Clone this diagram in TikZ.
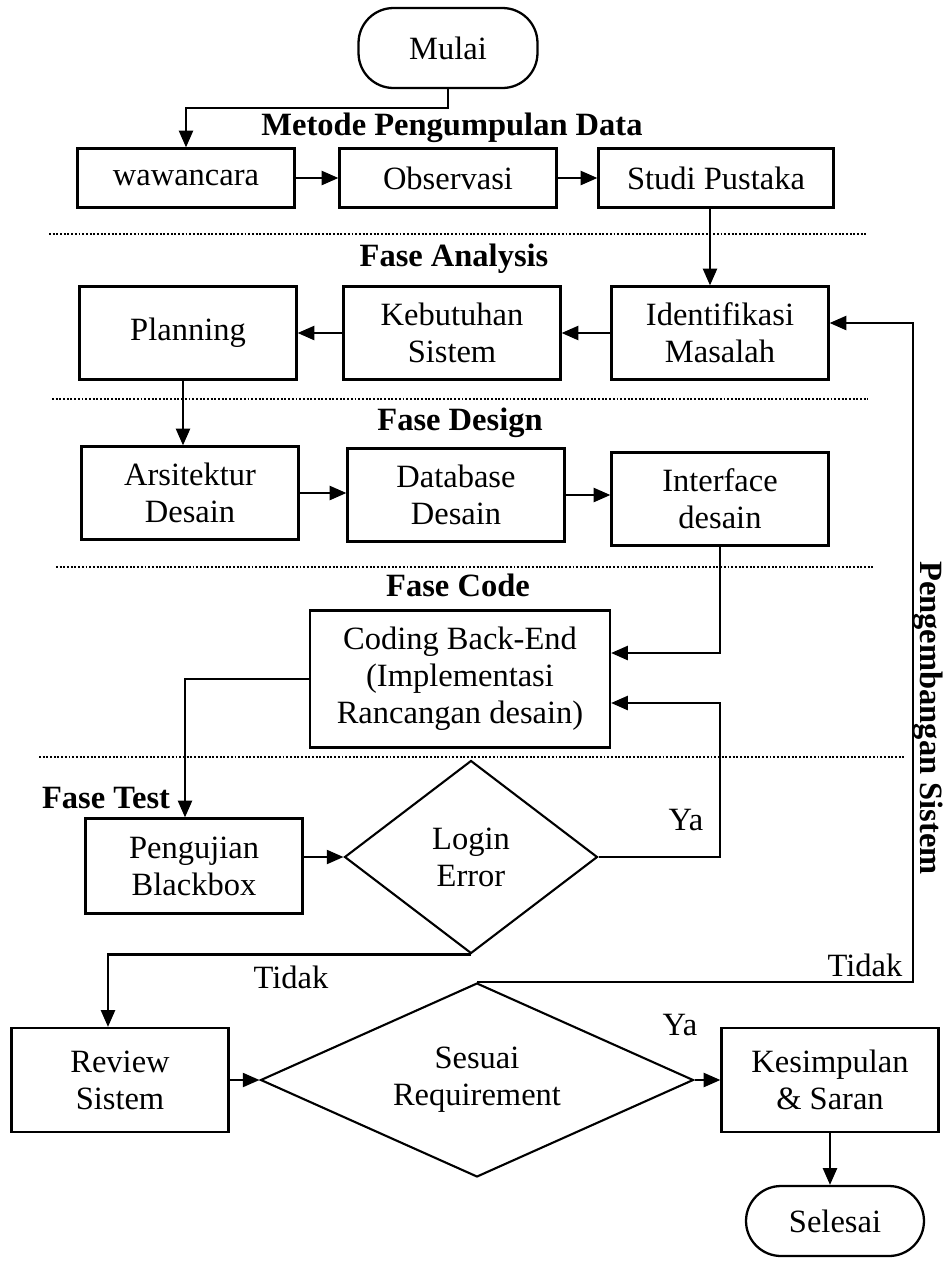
\documentclass[tikz,border=0pt]{standalone}
\usepackage{fontspec}
\setmainfont{Liberation Serif}
\usetikzlibrary{shapes.geometric,arrows.meta}

\begin{document}
\begin{tikzpicture}[x=0.02cm, y=-0.02cm,
		font=\fontsize{18.5}{21}\selectfont,
		proses/.style={draw, line width=1.3pt, rectangle, align=center, inner sep=0pt,
			minimum width=4.34cm, minimum height=1.86cm},
		terminal/.style={draw, line width=1.3pt, rounded corners=0.7cm, inner sep=0pt},
		keputusan/.style={draw, line width=1.2pt, diamond, align=center, inner sep=0pt},
		fase/.style={font=\fontsize{18.5}{21}\selectfont\bfseries},
		alur/.style={line width=1.2pt, -{Triangle[length=9.5pt,width=8pt]}},
		batas/.style={densely dotted, line width=1.1pt}]
		  \useasboundingbox (0,0) rectangle (947,1262);

		  \node[terminal, minimum width=3.58cm, minimum height=1.6cm] (mulai) at (448,48) {Mulai};
		  \node[fase] (judulmetode) at (452,128) {Metode Pengumpulan Data};
		  \node[proses, minimum height=1.18cm] (wawancara) at (186,178) {wawancara};
		  \node[proses, minimum height=1.18cm] (observasi) at (448,178) {Observasi};
		  \node[proses, minimum width=4.7cm, minimum height=1.18cm] (studi) at (716,178) {Studi Pustaka};

		  \node[fase] (judulanalysis) at (454,259) {Fase Analysis};
		  \node[proses] (planning) at (188,333) {Planning};
		  \node[proses] (kebutuhan) at (452,333) {Kebutuhan\\Sistem};
		  \node[proses] (identifikasi) at (720,333) {Identifikasi\\Masalah};

		  \node[fase] (juduldesign) at (460,423) {Fase Design};
		  \node[proses] (arsitektur) at (190,493) {Arsitektur\\Desain};
		  \node[proses] (database) at (456,495) {Database\\Desain};
		  \node[proses] (interface) at (720,499) {Interface\\desain};

		  \node[fase] (judulcode) at (458,585) {Fase Code};
		  \node[proses, minimum width=6cm, minimum height=2.74cm] (coding) at (460,679)
		      {Coding Back-End\\(Implementasi\\Rancangan desain)};

		  \node[fase] (judultest) at (106,798) {Fase Test};
		  \node[proses, minimum height=1.9cm] (pengujian) at (194,866) {Pengujian\\Blackbox};
		  \node[keputusan, aspect=1.3, minimum width=5.06cm, minimum height=3.86cm] (login) at (471,857) {Login\\Error};

		  \node[proses, minimum height=2.08cm] (review) at (120,1080) {Review\\Sistem};
		  \node[keputusan, aspect=2.2, minimum width=8.66cm, minimum height=3.88cm] (sesuai) at (477,1080) {Sesuai\\Requirement};
		  \node[proses, minimum height=2.08cm] (kesimpulan) at (830,1080) {Kesimpulan\\\& Saran};
		  \node[terminal, minimum width=3.56cm, minimum height=1.4cm] (selesai) at (835,1221) {Selesai};

		  \node[fase, rotate=-90, inner sep=0pt] (pengembangan) at (928,718) {Pengembangan Sistem};

		  \node (yalogin) at (686,820) {Ya};
		  \node (tidaklogin) at (291,977) {Tidak};
		  \node (yasesuai) at (680,1025) {Ya};
		  \node (tidaksesuai) at (865,965) {Tidak};

		  \draw[batas] (49,234) -- (866,234);
		  \draw[batas] (52,399) -- (868,399);
		  \draw[batas] (56,567) -- (873,567);
		  \draw[batas] (39,757) -- (905,757);

		  \draw[alur] (mulai.south) -- ++(0,19) -| (wawancara.north);
		  \draw[alur] (wawancara) -- (observasi);
		  \draw[alur] (observasi) -- (studi);
		  \draw[alur] ([xshift=-0.12cm]studi.south) -- ([xshift=-0.12cm]studi.south |- identifikasi.north);
		  \draw[alur] (identifikasi) -- (kebutuhan);
		  \draw[alur] (kebutuhan) -- (planning);
		  \draw[alur] ([xshift=-0.1cm]planning.south) -- ([xshift=-0.1cm]planning.south |- arsitektur.north);
		  \draw[alur] (arsitektur.east) -- (arsitektur.east -| database.west);
		  \draw[alur] (database.east) -- (database.east -| interface.west);
		  \draw[alur] (interface.south) |- ([yshift=0.52cm]coding.east);
		  \draw[alur] (login.east) -- (login.east -| interface.south) |- ([yshift=-0.48cm]coding.east);
		  \draw[alur] (coding.west) -| ([xshift=-0.18cm]pengujian.north);
		  \draw[alur] (pengujian.east |- login.west) -- (login.west);
		  \draw[alur] (login.south) -| ([xshift=-0.24cm]review.north);
		  \draw[alur] (review.east) -- (sesuai.west);
		  \draw[alur] (sesuai.east) -- (kesimpulan.west);
		  \draw[alur] (sesuai.north) -- ++(436,0) |- ([yshift=0.2cm]identifikasi.east);
		  \draw[alur] (kesimpulan.south) -- (kesimpulan.south |- selesai.north);
\end{tikzpicture}
\end{document}
